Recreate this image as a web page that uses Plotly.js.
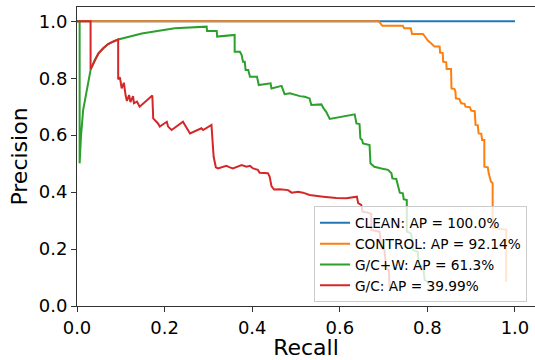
<!DOCTYPE html>
<html>
<head>
<meta charset="utf-8">
<script src="https://cdn.plot.ly/plotly-3.0.1.min.js"></script>
<style>html,body{margin:0;padding:0;background:#fff;}#chart{width:535px;height:360px;}</style>
</head>
<body>
<div id="chart"></div>
<script>
const seriesNames = ["CLEAN: AP = 100.0%", "CONTROL: AP = 92.14%", "G/C+W: AP = 61.3%", "G/C: AP = 39.99%"];
const seriesColors = ["#1f77b4", "#ff7f0e", "#2ca02c", "#d62728"];
const tickValues = [0, 0.2, 0.4, 0.6, 0.8, 1.0];
const tickLabels = ["0.0", "0.2", "0.4", "0.6", "0.8", "1.0"];

const cleanRecall = [0, 1.0];
const cleanPrecision = [1.0, 1.0];

const controlRecall = [0, 0.689, 0.697, 0.744, 0.747, 0.762, 0.765, 0.790, 0.796, 0.801, 0.809, 0.816, 0.828, 0.829, 0.835, 0.836, 0.843, 0.844, 0.854, 0.855, 0.862, 0.864, 0.865, 0.873, 0.877, 0.885, 0.887, 0.897, 0.900, 0.908, 0.910, 0.915, 0.917, 0.923, 0.925, 0.930, 0.930, 0.938, 0.940, 0.945, 0.949, 0.949, 0.976, 0.980, 0.980];
const controlPrecision = [1.0, 1.0, 0.984, 0.984, 0.975, 0.975, 0.955, 0.955, 0.943, 0.932, 0.922, 0.911, 0.911, 0.890, 0.888, 0.858, 0.856, 0.832, 0.832, 0.764, 0.762, 0.753, 0.729, 0.727, 0.712, 0.710, 0.700, 0.698, 0.686, 0.684, 0.636, 0.635, 0.606, 0.605, 0.583, 0.583, 0.489, 0.487, 0.466, 0.437, 0.431, 0.274, 0.269, 0.268, 0.085];

const gcwRecall = [0, 0.006, 0.006, 0.009, 0.014, 0.022, 0.031, 0.040, 0.049, 0.060, 0.071, 0.094, 0.148, 0.223, 0.296, 0.297, 0.319, 0.320, 0.360, 0.360, 0.372, 0.376, 0.379, 0.383, 0.385, 0.391, 0.395, 0.411, 0.415, 0.442, 0.444, 0.467, 0.471, 0.474, 0.486, 0.497, 0.509, 0.520, 0.531, 0.535, 0.558, 0.563, 0.569, 0.577, 0.634, 0.638, 0.645, 0.647, 0.651, 0.653, 0.668, 0.670, 0.675, 0.679, 0.695, 0.710, 0.718, 0.720, 0.729, 0.733, 0.737, 0.744, 0.746, 0.753, 0.753, 0.763, 0.767, 0.778, 0.780, 0.790, 0.794, 0.801, 0.802];
const gcwPrecision = [1.0, 1.0, 0.501, 0.594, 0.688, 0.758, 0.829, 0.862, 0.887, 0.905, 0.920, 0.936, 0.957, 0.975, 0.981, 0.966, 0.966, 0.946, 0.952, 0.893, 0.893, 0.881, 0.858, 0.858, 0.829, 0.829, 0.805, 0.805, 0.776, 0.782, 0.764, 0.773, 0.758, 0.744, 0.747, 0.741, 0.737, 0.735, 0.729, 0.706, 0.708, 0.694, 0.682, 0.657, 0.673, 0.641, 0.639, 0.589, 0.583, 0.571, 0.565, 0.501, 0.495, 0.489, 0.483, 0.478, 0.466, 0.448, 0.446, 0.419, 0.398, 0.396, 0.375, 0.372, 0.261, 0.255, 0.197, 0.191, 0.144, 0.138, 0.091, 0.085, 0.074];

const gcRecall = [0, 0.031, 0.031, 0.040, 0.049, 0.060, 0.071, 0.083, 0.094, 0.094, 0.098, 0.102, 0.107, 0.111, 0.114, 0.119, 0.122, 0.128, 0.130, 0.137, 0.143, 0.172, 0.174, 0.185, 0.189, 0.205, 0.208, 0.216, 0.242, 0.258, 0.284, 0.288, 0.307, 0.312, 0.317, 0.322, 0.341, 0.349, 0.356, 0.376, 0.387, 0.395, 0.402, 0.413, 0.417, 0.436, 0.440, 0.444, 0.450, 0.463, 0.482, 0.490, 0.505, 0.516, 0.531, 0.562, 0.592, 0.615, 0.639, 0.642, 0.649, 0.652, 0.664, 0.672, 0.672, 0.691, 0.695, 0.702, 0.706, 0.712, 0.714];
const gcPrecision = [1.0, 1.0, 0.831, 0.862, 0.887, 0.905, 0.920, 0.929, 0.936, 0.796, 0.803, 0.764, 0.784, 0.740, 0.720, 0.741, 0.716, 0.737, 0.712, 0.718, 0.700, 0.739, 0.659, 0.641, 0.630, 0.647, 0.630, 0.618, 0.647, 0.606, 0.624, 0.618, 0.636, 0.524, 0.487, 0.483, 0.492, 0.487, 0.483, 0.495, 0.489, 0.492, 0.483, 0.478, 0.468, 0.466, 0.454, 0.421, 0.409, 0.410, 0.407, 0.398, 0.401, 0.398, 0.390, 0.384, 0.379, 0.378, 0.384, 0.361, 0.355, 0.331, 0.328, 0.323, 0.267, 0.261, 0.203, 0.197, 0.132, 0.126, 0.062];

const xs = [cleanRecall, controlRecall, gcwRecall, gcRecall];
const ys = [cleanPrecision, controlPrecision, gcwPrecision, gcPrecision];

const traces = xs.map((x, i) => ({
  x: x, y: ys[i], type: 'scatter', mode: 'lines', name: seriesNames[i],
  line: {color: seriesColors[i], width: 2}
}));

const axisFont = {family: 'DejaVu Sans', size: 18, color: '#000'};
const layout = {
  width: 535, height: 360,
  margin: {l: 77, r: 0, t: 7, b: 54},
  paper_bgcolor: '#fff', plot_bgcolor: '#fff',
  font: {family: 'DejaVu Sans', color: '#000'},
  showlegend: true,
  xaxis: {
    range: [0, 1.0457], tickmode: 'array', tickvals: tickValues, ticktext: tickLabels,
    showgrid: false, zeroline: false, showline: true, mirror: true, linecolor: '#333', linewidth: 1,
    ticks: 'outside', ticklen: 5, tickwidth: 1, tickcolor: '#333', tickfont: axisFont,
    title: {text: 'Recall', font: {family: 'DejaVu Sans', size: 22, color: '#000'}, standoff: 8}
  },
  yaxis: {
    range: [0, 1.05], tickmode: 'array', tickvals: tickValues, ticktext: tickLabels,
    showgrid: false, zeroline: false, showline: true, mirror: false, linecolor: '#333', linewidth: 1,
    ticks: 'outside', ticklen: 5, tickwidth: 1, tickcolor: '#333', tickfont: axisFont,
    title: {text: 'Precision', font: {family: 'DejaVu Sans', size: 22, color: '#000'}, standoff: 5}
  },
  legend: {
    x: 0.5175, y: 0.012, xanchor: 'left', yanchor: 'bottom',
    bgcolor: 'rgba(255,255,255,0.8)', bordercolor: '#cccccc', borderwidth: 1,
    font: {family: 'DejaVu Sans', size: 13.7, color: '#000'},
    traceorder: 'normal', entrywidth: 185, entrywidthmode: 'pixels'
  }
};

Plotly.newPlot('chart', traces, layout, {displayModeBar: false, staticPlot: true});
</script>
</body>
</html>
